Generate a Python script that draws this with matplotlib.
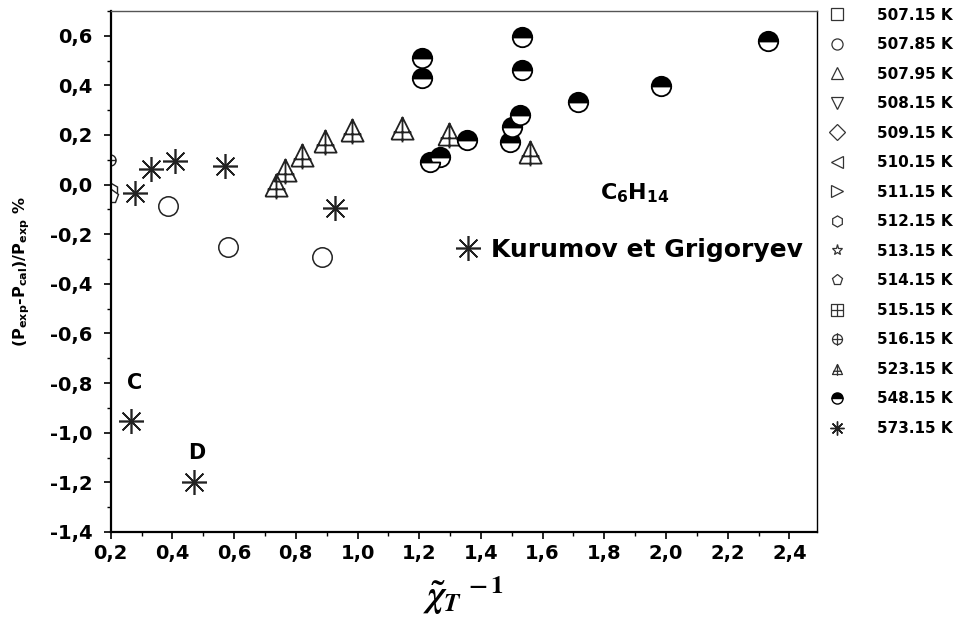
import numpy as np
import matplotlib
matplotlib.use('Agg')
import matplotlib.pyplot as plt
from matplotlib.path import Path
from matplotlib.lines import Line2D
from matplotlib.ticker import MultipleLocator, FuncFormatter

# temperatures in the legend
temps = ['507.15 K', '507.85 K', '507.95 K', '508.15 K', '509.15 K', '510.15 K',
         '511.15 K', '512.15 K', '513.15 K', '514.15 K', '515.15 K', '516.15 K',
         '523.15 K', '548.15 K', '573.15 K']

# deviations (P_exp - P_cal)/P_exp in % against reduced compressibility^-1
x_50785 = [0.387, 0.581, 0.886]
y_50785 = [-0.085, -0.25, -0.29]

x_51215 = [0.2]
y_51215 = [-0.02]

x_51415 = [0.2]
y_51415 = [-0.045]

x_51615 = [0.197]
y_51615 = [0.10]

x_52315 = [0.737, 0.765, 0.82, 0.893, 0.983, 1.145, 1.296, 1.56]
y_52315 = [0.0, 0.06, 0.12, 0.175, 0.221, 0.23, 0.205, 0.13]

x_54815 = [1.208, 1.208, 1.532, 1.532, 2.33, 1.984, 1.716, 1.527, 1.5, 1.494,
           1.356, 1.267, 1.235]
y_54815 = [0.51, 0.429, 0.595, 0.46, 0.577, 0.398, 0.331, 0.281, 0.234, 0.17,
           0.181, 0.113, 0.093]

# Kurumov et Grigoryev
x_57315 = [0.279, 0.33, 0.408, 0.571, 0.927, 0.266, 0.471]
y_57315 = [-0.034, 0.064, 0.097, 0.077, -0.094, -0.952, -1.197]

# point labels C and D
lab_txt = ['C', 'D']
lab_x = [0.279, 0.48]
lab_y = [-0.80, -1.08]

# hand-made markers: shapes with a cross through them
M, L = Path.MOVETO, Path.LINETO
sq_plus = Path([(-1, -1), (1, -1), (1, 1), (-1, 1), (-1, -1), (0, -1), (0, 1), (-1, 0), (1, 0)],
               [M, L, L, L, L, M, L, M, L])
circ = Path.unit_circle()
circ_plus = Path.make_compound_path(circ, Path([(0, -1.25), (0, 1.25), (-1, 0), (1, 0)], [M, L, M, L]))
tri_plus = Path([(-1, -1), (1, -1), (0, 1), (-1, -1), (0, 1), (0, -1.25), (-0.8, -0.35), (0.8, -0.35)],
                [M, L, L, L, M, L, M, L])
aster = (8, 2, 0)

markers = ['s', 'o', '^', 'v', 'D', '<', '>', 'h', '*', 'p', sq_plus, circ_plus, tri_plus, 'o', aster]

plt.rcParams['font.family'] = ['DejaVu Sans']
plt.rcParams['font.weight'] = 'bold'
plt.rcParams['mathtext.fontset'] = 'custom'
plt.rcParams['mathtext.rm'] = 'DejaVu Sans:bold'
plt.rcParams['mathtext.it'] = 'DejaVu Sans:bold'
plt.rcParams['mathtext.bf'] = 'DejaVu Sans:bold'

fig = plt.figure(figsize=(9.56, 6.44), dpi=100)
ax = fig.add_axes([0.1158, 0.174, 0.739, 0.809])

ax.plot(x_50785, y_50785, ls='none', marker='o', ms=14, mfc='white', mec='#222222', mew=1.1)
ax.plot(x_51215, y_51215, ls='none', marker='h', ms=10, mfc='white', mec='#222222', mew=1.0)
ax.plot(x_51415, y_51415, ls='none', marker='p', ms=10, mfc='white', mec='#222222', mew=1.0)
ax.plot(x_51615, y_51615, ls='none', marker=circ_plus, ms=10, mfc='none', mec='#222222', mew=1.0)
ax.plot(x_52315, y_52315, ls='none', marker=tri_plus, ms=20, mfc='none', mec='#222222', mew=1.3)
ax.plot(x_54815, y_54815, ls='none', marker='o', ms=14, fillstyle='top', mfc='black',
        mfcalt='white', mec='black', mew=1.3)
stars, = ax.plot(x_57315, y_57315, ls='none', marker=aster, ms=18, mec='#222222', mew=1.2)

for t, xx, yy in zip(lab_txt, lab_x, lab_y):
    ax.text(xx, yy, t, fontsize=15, fontweight='bold', ha='center', va='center')

ax.text(1.787, -0.035, r'C$_6$H$_{14}$', fontsize=16, fontweight='bold', va='center')

# star legend inside the frame
ax.legend([stars], ['Kurumov et Grigoryev'], loc='center left',
          bbox_to_anchor=(0.49, 0.541), frameon=False, fontsize=18,
          handlelength=0.9, handletextpad=0.45, borderpad=0, borderaxespad=0)

ax.set_xticks(np.arange(0.2, 2.41, 0.2))
ax.xaxis.set_minor_locator(MultipleLocator(0.1))
ax.yaxis.set_major_locator(MultipleLocator(0.2))
ax.yaxis.set_minor_locator(MultipleLocator(0.1))
ax.set_xlim(0.2, 2.49)
ax.set_ylim(-1.4, 0.70)
comma = FuncFormatter(lambda v, p: ('%.1f' % v).replace('.', ','))
ax.xaxis.set_major_formatter(comma)
ax.yaxis.set_major_formatter(comma)
ax.tick_params(which='major', direction='out', length=5, width=1.2, labelsize=14)
ax.tick_params(axis='y', which='major', pad=8)
ax.tick_params(axis='x', which='major', pad=4)
ax.tick_params(which='minor', direction='out', length=3, width=1.0)
ax.tick_params(right=False, top=False)
for lbl in ax.get_xticklabels() + ax.get_yticklabels():
    lbl.set_fontweight('bold')

ax.spines['left'].set_linewidth(1.6)
ax.spines['bottom'].set_linewidth(1.6)
ax.spines['top'].set_linewidth(1.0)
ax.spines['top'].set_color('#555555')
ax.spines['right'].set_linewidth(1.0)

ax.set_ylabel(r'(P$_{exp}$-P$_{cal}$)/P$_{exp}$ %', fontsize=11.5, fontweight='bold', labelpad=13)
ax.set_xlabel(r'$\tilde{\chi}_{T}{}^{\,-1}$', fontsize=26, math_fontfamily='stix', labelpad=8)

# legend of all isotherms at the right
handles = []
for i, mk in enumerate(markers):
    if i == 13:
        h = Line2D([], [], ls='none', marker='o', ms=8, fillstyle='top', mfc='black',
                   mfcalt='white', mec='black', mew=1.0)
    elif i == 14:
        h = Line2D([], [], ls='none', marker=mk, ms=10, mec='#222222', mew=1.0)
    else:
        h = Line2D([], [], ls='none', marker=mk, ms=9 if i > 9 else 8, mfc='none',
                   mec='#333333', mew=0.9)
    handles.append(h)
fig.legend(handles, temps, loc='upper left', bbox_to_anchor=(0.868, 0.988),
           frameon=False, fontsize=11, handlelength=1.0, handletextpad=2.08,
           labelspacing=0.95, borderpad=0, borderaxespad=0)

fig.savefig('out.png', dpi=100)
